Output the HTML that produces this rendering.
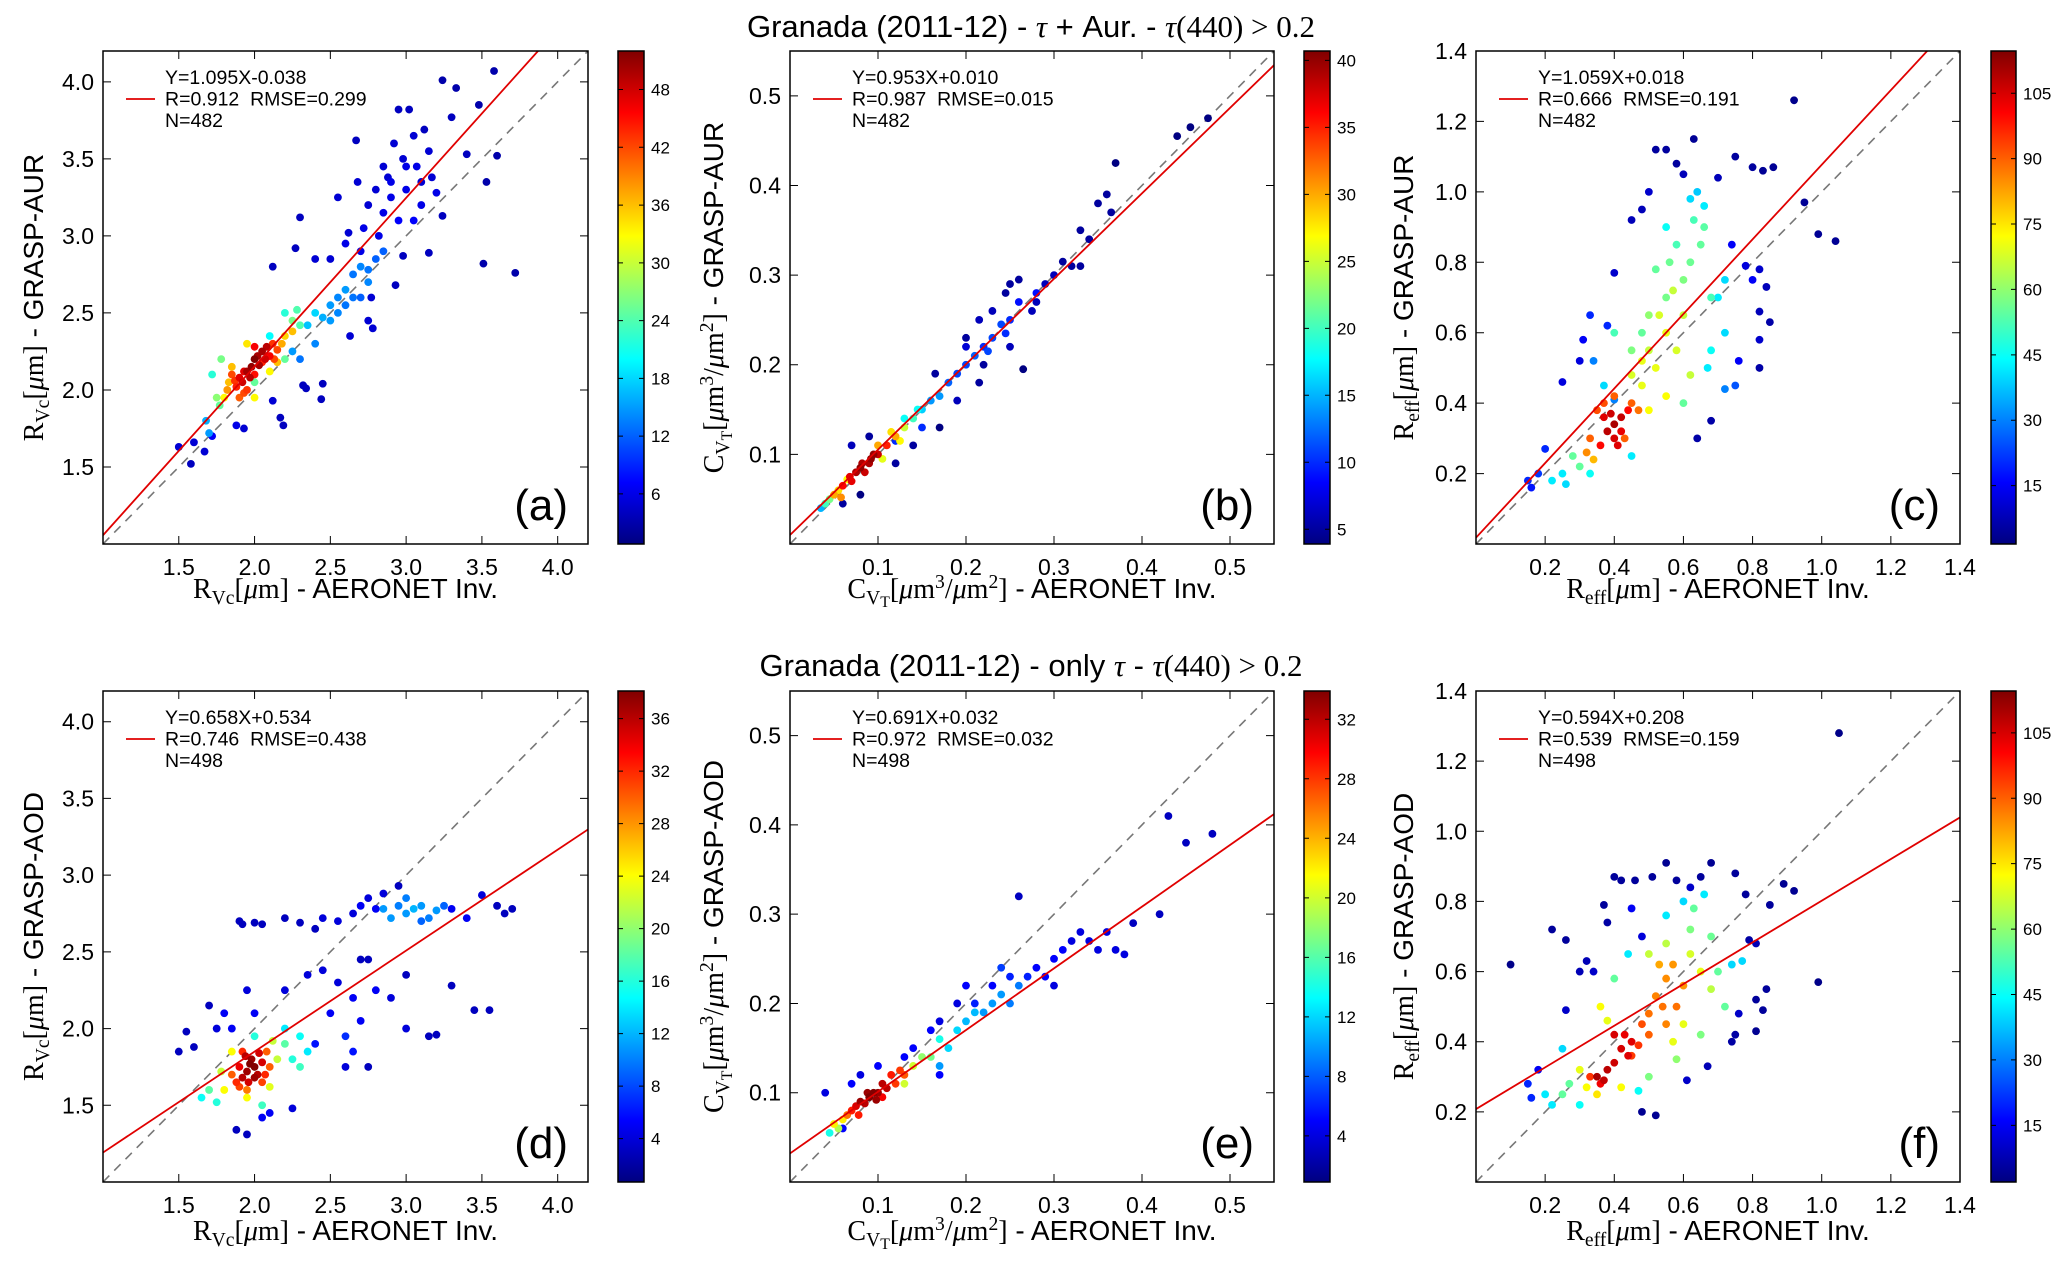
<!DOCTYPE html>
<html><head><meta charset="utf-8"><style>
html,body{margin:0;padding:0;background:#fff;}
svg{display:block;font-family:"Liberation Sans",sans-serif;}
</style></head><body>
<svg id="fig" width="2067" height="1265" viewBox="0 0 2067 1265" xmlns="http://www.w3.org/2000/svg">
<text x="1031" y="37" text-anchor="middle" font-size="31">Granada (2011-12) - <tspan font-family="Liberation Serif" font-style="italic">τ</tspan> + Aur. - <tspan font-family="Liberation Serif"><tspan font-style="italic">τ</tspan>(440) &gt; 0.2</tspan></text>
<text x="1031" y="676" text-anchor="middle" font-size="31">Granada (2011-12) - only <tspan font-family="Liberation Serif" font-style="italic">τ</tspan> - <tspan font-family="Liberation Serif"><tspan font-style="italic">τ</tspan>(440) &gt; 0.2</tspan></text>
</svg>
<script>
// ---- data: [x, y, density] ----
const dataA=[[1.95,2.12,50],[2.0,2.2,52],[2.05,2.25,50],[1.92,2.05,48],[2.08,2.28,49],[1.98,2.15,51],[2.02,2.22,50],[1.9,2.08,47],[2.1,2.22,46],
[1.97,2.08,49],[2.03,2.16,50],[2.07,2.2,48],[1.93,2.12,47],[2.0,2.28,46],
[1.88,2.02,44],[1.95,2.0,43],[2.12,2.3,43],[2.0,2.1,45],[1.85,2.1,42],[2.05,2.18,44],[2.15,2.26,42],[1.93,1.98,42],[1.9,1.95,41],[2.13,2.2,42],[1.87,2.06,43],
[1.82,2.0,38],[1.85,2.15,36],[2.15,2.18,36],[1.95,2.3,34],[2.2,2.35,35],[2.25,2.38,36],[1.8,1.95,33],[2.1,2.12,33],[2.0,1.95,33],[2.18,2.3,37],[1.83,2.05,36],
[1.75,1.95,27],[1.78,2.2,26],[2.25,2.45,26],[2.3,2.42,24],[2.2,2.5,22],[1.72,2.1,22],[2.1,2.35,20],[2.4,2.5,18],[2.0,2.05,25],[2.2,2.2,25],[1.77,1.9,25],[2.28,2.52,24],
[1.68,1.8,16],[1.7,1.72,15],[2.35,2.42,17],[2.5,2.55,15],[2.45,2.47,16],[2.55,2.6,14],[2.6,2.65,15],[2.65,2.75,13],[2.7,2.8,14],[2.75,2.7,14],[2.8,2.85,12],[2.85,2.9,12],[2.6,2.55,13],[2.7,2.6,12],[2.4,2.3,14],[2.25,2.25,15],[2.3,2.2,13],[2.5,2.45,15],[2.55,2.5,14],[2.65,2.6,13],[2.75,2.78,13],
[1.5,1.63,5],[1.58,1.52,4],[1.6,1.66,5],[1.67,1.6,5],[1.72,1.7,7],[1.88,1.77,6],[1.93,1.75,5],[2.12,1.93,5],[2.17,1.82,4],[2.19,1.77,4],[2.32,2.03,4],[2.34,2.01,4],[2.45,2.04,4],[2.44,1.94,4],[2.12,2.8,4],[2.27,2.92,4],[2.3,3.12,4],[2.4,2.85,5],[2.55,3.25,5],[2.62,3.02,5],[2.67,3.62,4],[2.68,3.35,5],[2.75,3.2,5],[2.8,3.3,5],[2.85,3.45,5],[2.88,3.38,5],[2.9,3.25,6],[2.92,3.6,5],[2.95,3.82,4],[2.98,3.5,5],[3.0,3.3,6],[3.02,3.82,4],[3.05,3.65,5],[3.07,3.45,6],[3.1,3.2,6],[3.12,3.69,4],[3.15,3.55,5],[3.17,3.38,5],[3.2,3.28,6],[3.24,4.01,3],[3.3,3.77,4],[3.33,3.96,3],[3.4,3.53,4],[3.48,3.85,3],[3.58,4.07,3],[3.6,3.52,3],[3.53,3.35,3],[3.51,2.82,3],[3.72,2.76,3],[3.15,2.89,4],[3.24,3.13,4],[2.98,2.87,4],[2.93,2.68,4],[2.77,2.6,5],[2.78,2.4,5],[2.75,2.45,5],[2.63,2.35,5],[2.5,2.85,5],[2.6,2.95,6],[2.7,2.9,6],[2.82,3.0,6],[2.95,3.1,7],[3.05,3.1,7],[2.9,3.35,6],[3.0,3.45,6],[2.85,3.15,6],[3.1,3.35,5],[2.72,3.05,6]];
const dataB=[[0.08,0.085,40],[0.09,0.09,39],[0.1,0.1,38],[0.07,0.07,37],[0.095,0.1,40],[0.085,0.08,38],[0.06,0.065,36],[0.11,0.11,35],[0.075,0.08,39],[0.082,0.09,39],[0.092,0.095,40],[0.068,0.075,37],
[0.05,0.055,30],[0.055,0.06,28],[0.12,0.12,30],[0.115,0.125,28],[0.13,0.13,25],[0.065,0.072,27],[0.1,0.11,30],[0.105,0.095,26],[0.058,0.052,31],[0.125,0.115,27],
[0.04,0.045,20],[0.045,0.05,22],[0.14,0.14,20],[0.145,0.15,18],[0.15,0.15,16],[0.13,0.14,18],[0.16,0.16,14],[0.17,0.165,14],[0.035,0.04,15],
[0.18,0.18,12],[0.19,0.19,11],[0.2,0.2,11],[0.21,0.21,12],[0.22,0.22,10],[0.23,0.23,11],[0.24,0.245,11],[0.25,0.25,10],[0.26,0.27,9],[0.28,0.28,9],[0.15,0.13,10],[0.12,0.115,10],[0.225,0.215,11],[0.245,0.235,10],
[0.06,0.045,5],[0.08,0.055,4],[0.07,0.11,6],[0.09,0.12,5],[0.12,0.09,5],[0.14,0.11,5],[0.17,0.13,4],[0.165,0.19,5],[0.2,0.23,5],[0.215,0.25,6],[0.23,0.26,6],[0.25,0.29,5],[0.245,0.28,5],[0.26,0.295,5],[0.22,0.2,5],[0.215,0.18,5],[0.265,0.195,4],[0.275,0.26,6],[0.29,0.29,6],[0.3,0.3,6],[0.31,0.315,5],[0.32,0.31,5],[0.33,0.31,5],[0.33,0.35,5],[0.34,0.34,5],[0.35,0.38,5],[0.36,0.39,5],[0.365,0.37,5],[0.37,0.425,4],[0.44,0.455,4],[0.455,0.465,4],[0.475,0.475,4],[0.19,0.16,6],[0.25,0.22,6],[0.28,0.27,6],[0.2,0.22,7]];
const dataC=[[0.4,0.34,110],[0.38,0.32,108],[0.42,0.36,107],[0.4,0.3,105],[0.37,0.36,104],[0.44,0.38,100],[0.36,0.28,100],[0.42,0.32,103],[0.39,0.37,106],[0.41,0.28,104],
[0.33,0.3,90],[0.35,0.38,92],[0.45,0.4,90],[0.47,0.38,88],[0.32,0.26,85],[0.4,0.42,90],[0.34,0.24,80],[0.37,0.4,92],[0.43,0.3,90],
[0.5,0.38,72],[0.48,0.45,70],[0.55,0.42,72],[0.52,0.5,70],[0.58,0.55,68],[0.6,0.65,66],[0.55,0.6,70],[0.5,0.55,66],[0.45,0.48,68],[0.62,0.48,66],[0.57,0.72,66],[0.53,0.65,68],[0.48,0.52,70],
[0.3,0.22,55],[0.28,0.25,55],[0.6,0.75,58],[0.55,0.7,57],[0.65,0.85,55],[0.62,0.8,56],[0.66,0.9,54],[0.48,0.6,55],[0.52,0.78,55],[0.68,0.7,52],[0.58,0.85,52],[0.6,0.4,55],[0.45,0.55,58],[0.5,0.65,60],[0.4,0.6,52],[0.56,0.8,56],[0.63,0.92,52],
[0.22,0.18,42],[0.25,0.2,42],[0.26,0.17,40],[0.33,0.2,45],[0.66,0.96,42],[0.62,0.98,40],[0.7,0.7,42],[0.72,0.6,40],[0.68,0.55,45],[0.67,0.5,42],[0.72,0.75,40],[0.64,1.0,38],[0.55,0.9,45],[0.37,0.45,40],[0.45,0.25,42],
[0.15,0.18,20],[0.16,0.16,18],[0.18,0.2,22],[0.2,0.27,20],[0.25,0.46,12],[0.3,0.52,12],[0.31,0.58,15],[0.33,0.65,20],[0.38,0.62,20],[0.4,0.77,10],[0.45,0.92,8],[0.48,0.95,8],[0.5,1.0,10],[0.52,1.12,5],[0.55,1.12,5],[0.58,1.08,5],[0.6,1.05,8],[0.63,1.15,4],[0.7,1.04,8],[0.75,1.1,5],[0.8,1.07,5],[0.83,1.06,4],[0.86,1.07,4],[0.74,0.85,15],[0.78,0.79,12],[0.8,0.75,15],[0.82,0.78,10],[0.84,0.73,8],[0.82,0.66,8],[0.85,0.63,6],[0.82,0.58,10],[0.76,0.52,15],[0.82,0.5,6],[0.68,0.35,6],[0.64,0.3,6],[0.92,1.26,3],[0.95,0.97,4],[0.99,0.88,4],[1.04,0.86,4],[0.4,0.41,30],[0.34,0.52,30],[0.72,0.44,30],[0.75,0.45,25]];
const dataD=[[1.95,1.72,37],[2.0,1.75,38],[1.92,1.68,36],[1.98,1.8,37],[2.02,1.7,36],[1.96,1.65,35],[2.05,1.78,35],[1.9,1.75,34],[1.97,1.77,38],[2.0,1.68,37],[1.94,1.82,36],[2.03,1.84,35],
[1.88,1.65,32],[2.05,1.65,31],[2.08,1.85,30],[1.85,1.7,30],[1.95,1.6,29],[2.1,1.75,30],[1.92,1.85,32],[1.9,1.62,31],[2.07,1.7,32],
[1.8,1.6,24],[1.85,1.85,24],[2.1,1.62,23],[2.15,1.8,22],[1.78,1.72,22],[2.12,1.92,22],[1.95,1.55,24],
[1.7,1.6,18],[1.75,1.52,16],[2.2,1.9,18],[2.25,1.8,16],[2.3,1.75,17],[2.0,1.95,16],[2.2,2.0,14],[2.35,1.85,14],[2.05,1.5,17],[1.65,1.55,15],[2.3,1.95,15],
[2.85,2.78,11],[2.9,2.72,11],[2.95,2.8,10],[3.0,2.75,11],[3.05,2.78,12],[3.1,2.8,11],[3.15,2.72,10],[3.2,2.77,11],[3.0,2.85,10],[3.1,2.7,9],[3.25,2.8,9],
[1.9,2.7,3],[1.92,2.68,3],[2.0,2.69,3],[2.05,2.68,3],[2.2,2.72,3],[2.3,2.69,3],[2.45,2.72,4],[2.55,2.7,4],[2.65,2.75,4],[2.7,2.8,5],[2.75,2.85,4],[2.8,2.78,5],[2.85,2.88,4],[2.95,2.93,3],[3.4,2.72,5],[3.5,2.87,4],[3.6,2.8,3],[3.65,2.75,3],[3.7,2.78,3],[3.3,2.78,5],[2.4,2.65,3],
[1.5,1.85,3],[1.55,1.98,3],[1.6,1.88,3],[1.7,2.15,3],[1.75,2.0,4],[1.8,2.1,5],[1.85,2.0,5],[1.95,2.25,4],[2.0,2.1,5],[2.2,2.25,4],[2.35,2.35,4],[2.45,2.38,4],[2.5,2.1,5],[2.55,2.3,4],[2.65,2.2,5],[2.7,2.45,3],[2.75,2.45,3],[2.7,2.05,5],[2.8,2.25,5],[2.9,2.2,4],[3.0,2.35,3],[3.0,2.0,4],[3.3,2.28,3],[3.45,2.12,3],[3.55,2.12,3],[3.15,1.95,3],[3.2,1.96,3],[2.6,1.75,4],[2.75,1.75,3],[2.05,1.42,5],[2.1,1.45,5],[2.25,1.48,4],[1.88,1.34,3],[1.95,1.31,3],[2.4,1.9,6],[2.6,1.95,7],[2.65,1.85,6]];
const dataE=[[0.08,0.09,33],[0.09,0.095,34],[0.1,0.1,33],[0.095,0.1,34],[0.085,0.088,32],[0.11,0.105,32],[0.075,0.085,31],[0.088,0.1,33],[0.098,0.092,33],[0.105,0.11,32],
[0.07,0.08,29],[0.12,0.11,28],[0.13,0.12,27],[0.065,0.075,26],[0.105,0.095,30],[0.115,0.12,29],[0.125,0.125,28],[0.078,0.075,29],
[0.05,0.065,22],[0.06,0.07,22],[0.14,0.13,20],[0.15,0.14,18],[0.16,0.14,17],[0.13,0.11,20],[0.055,0.06,19],
[0.045,0.055,14],[0.17,0.16,14],[0.18,0.15,12],[0.19,0.17,12],[0.2,0.18,11],[0.21,0.19,11],[0.22,0.19,10],[0.23,0.2,10],[0.24,0.21,10],[0.25,0.2,9],[0.26,0.22,9],[0.17,0.13,10],
[0.04,0.1,4],[0.06,0.06,5],[0.07,0.11,5],[0.08,0.12,4],[0.1,0.13,5],[0.13,0.14,5],[0.14,0.15,5],[0.16,0.17,5],[0.17,0.18,4],[0.19,0.2,4],[0.2,0.22,5],[0.23,0.22,5],[0.25,0.23,6],[0.27,0.23,6],[0.28,0.24,5],[0.29,0.23,5],[0.3,0.25,5],[0.31,0.26,5],[0.32,0.27,4],[0.33,0.28,4],[0.34,0.27,4],[0.35,0.26,4],[0.36,0.28,4],[0.37,0.26,4],[0.38,0.255,4],[0.39,0.29,3],[0.42,0.3,3],[0.43,0.41,3],[0.45,0.38,3],[0.48,0.39,3],[0.26,0.32,3],[0.17,0.12,5],[0.21,0.2,6],[0.24,0.24,7],[0.3,0.22,4]];
const dataF=[[0.35,0.3,110],[0.38,0.32,108],[0.4,0.34,106],[0.42,0.38,105],[0.45,0.4,104],[0.43,0.42,103],[0.36,0.28,102],[0.4,0.42,105],[0.37,0.29,107],[0.44,0.36,104],
[0.33,0.3,95],[0.45,0.36,94],[0.48,0.45,92],[0.5,0.48,88],[0.52,0.53,86],[0.55,0.58,85],[0.57,0.62,84],[0.53,0.62,82],[0.6,0.56,84],[0.55,0.45,86],[0.58,0.5,88],[0.47,0.39,95],[0.5,0.42,90],[0.54,0.5,88],
[0.32,0.27,72],[0.3,0.32,70],[0.38,0.46,70],[0.36,0.5,72],[0.62,0.65,68],[0.6,0.45,70],[0.65,0.6,70],[0.68,0.55,65],[0.5,0.65,66],[0.55,0.68,65],[0.57,0.4,70],[0.42,0.27,72],[0.35,0.25,75],
[0.27,0.28,55],[0.25,0.25,55],[0.62,0.72,58],[0.68,0.7,56],[0.7,0.6,55],[0.72,0.5,55],[0.65,0.42,58],[0.58,0.35,60],[0.5,0.3,58],[0.4,0.58,55],[0.63,0.78,55],
[0.2,0.25,42],[0.22,0.22,42],[0.25,0.38,40],[0.55,0.76,42],[0.6,0.8,40],[0.66,0.82,42],[0.74,0.62,40],[0.77,0.63,40],[0.44,0.65,42],[0.3,0.22,45],[0.47,0.26,45],
[0.15,0.28,20],[0.16,0.24,20],[0.18,0.32,15],[0.1,0.62,3],[0.22,0.72,5],[0.26,0.69,5],[0.26,0.49,10],[0.3,0.6,8],[0.32,0.63,8],[0.34,0.6,10],[0.37,0.79,5],[0.38,0.74,6],[0.4,0.87,5],[0.42,0.86,5],[0.46,0.86,5],[0.51,0.87,5],[0.55,0.91,4],[0.58,0.86,5],[0.62,0.84,10],[0.65,0.87,5],[0.68,0.91,4],[0.75,0.88,5],[0.78,0.82,5],[0.85,0.79,5],[0.89,0.85,4],[0.92,0.83,4],[0.79,0.69,6],[0.81,0.68,8],[0.76,0.48,10],[0.75,0.42,6],[0.81,0.43,4],[0.83,0.49,5],[0.84,0.55,5],[0.81,0.52,5],[0.74,0.4,6],[0.67,0.33,8],[0.61,0.29,10],[0.48,0.2,4],[0.52,0.19,4],[0.99,0.57,3],[1.05,1.28,3],[0.45,0.78,15],[0.48,0.7,12]];
// fit lines [slope, intercept]
const fitA=[1.095,-0.038], fitB=[0.953,0.010], fitC=[1.059,0.018], fitD=[0.658,0.534], fitE=[0.691,0.032], fitF=[0.594,0.208];
const statsA=["Y=1.095X-0.038","R=0.912  RMSE=0.299","N=482"];
const statsB=["Y=0.953X+0.010","R=0.987  RMSE=0.015","N=482"];
const statsC=["Y=1.059X+0.018","R=0.666  RMSE=0.191","N=482"];
const statsD=["Y=0.658X+0.534","R=0.746  RMSE=0.438","N=498"];
const statsE=["Y=0.691X+0.032","R=0.972  RMSE=0.032","N=498"];
const statsF=["Y=0.594X+0.208","R=0.539  RMSE=0.159","N=498"];
const ticksR=[1.5,2.0,2.5,3.0,3.5,4.0];
const ticksC=[0.1,0.2,0.3,0.4,0.5];
const ticksE=[0.2,0.4,0.6,0.8,1.0,1.2,1.4];
const cbTicksA=[6,12,18,24,30,36,42,48], cbTicksB=[5,10,15,20,25,30,35,40], cbTicksC=[15,30,45,60,75,90,105];
const cbTicksD=[4,8,12,16,20,24,28,32,36], cbTicksE=[4,8,12,16,20,24,28,32], cbTicksF=[15,30,45,60,75,90,105];

const NS="http://www.w3.org/2000/svg";
const svg=document.getElementById('fig');
function mk(tag,attrs,parent){const e=document.createElementNS(NS,tag);for(const k in attrs)e.setAttribute(k,attrs[k]);(parent||svg).appendChild(e);return e;}
function jet(t){t=Math.max(0,Math.min(1,t));const c=v=>Math.round(255*Math.max(0,Math.min(1,v)));
 return `rgb(${c(1.5-Math.abs(4*t-3))},${c(1.5-Math.abs(4*t-2))},${c(1.5-Math.abs(4*t-1))})`;}

const rows=[[51,544],[691,1182]];
const cols=[[103,588,618,644,33],[790,1274,1304,1330,713],[1476,1960,1991,2016,1403]];
const RV='<tspan font-family="Liberation Serif">R<tspan font-size="0.7em" dy="6">Vc</tspan><tspan dy="-6">[</tspan><tspan font-style="italic">μ</tspan>m]</tspan>';
const CV='<tspan font-family="Liberation Serif">C<tspan font-size="0.7em" dy="6">V<tspan font-size="0.8em" dy="3">T</tspan></tspan><tspan dy="-9">[</tspan><tspan font-style="italic">μ</tspan>m<tspan font-size="0.7em" dy="-10">3</tspan><tspan dy="10">/</tspan><tspan font-style="italic">μ</tspan>m<tspan font-size="0.7em" dy="-10">2</tspan><tspan dy="10">]</tspan></tspan>';
const RE='<tspan font-family="Liberation Serif">R<tspan font-size="0.7em" dy="6">eff</tspan><tspan dy="-6">[</tspan><tspan font-style="italic">μ</tspan>m]</tspan>';

const panels=[
 {id:'a',r:0,c:0,data:dataA,fit:fitA,stats:statsA,dom:[1.0,4.2],ticks:ticksR,fmt:1,cb:[0.8,52],cbt:cbTicksA,xl:RV,yl:RV,ys:'GRASP-AUR'},
 {id:'b',r:0,c:1,data:dataB,fit:fitB,stats:statsB,dom:[0,0.55],ticks:ticksC,fmt:1,cb:[3.9,40.7],cbt:cbTicksB,xl:CV,yl:CV,ys:'GRASP-AUR'},
 {id:'c',r:0,c:2,data:dataC,fit:fitC,stats:statsC,dom:[0,1.4],ticks:ticksE,fmt:1,cb:[1.6,114.7],cbt:cbTicksC,xl:RE,yl:RE,ys:'GRASP-AUR'},
 {id:'d',r:1,c:0,data:dataD,fit:fitD,stats:statsD,dom:[1.0,4.2],ticks:ticksR,fmt:1,cb:[0.7,38.1],cbt:cbTicksD,xl:RV,yl:RV,ys:'GRASP-AOD'},
 {id:'e',r:1,c:1,data:dataE,fit:fitE,stats:statsE,dom:[0,0.55],ticks:ticksC,fmt:1,cb:[0.9,33.9],cbt:cbTicksE,xl:CV,yl:CV,ys:'GRASP-AOD'},
 {id:'f',r:1,c:2,data:dataF,fit:fitF,stats:statsF,dom:[0,1.4],ticks:ticksE,fmt:1,cb:[2.0,114.6],cbt:cbTicksF,xl:RE,yl:RE,ys:'GRASP-AOD'}
];

panels.forEach(p=>{
 const [L,R,CL,CR,YLX]=cols[p.c]; const [T,B]=rows[p.r];
 const g=mk('g',{});
 
 
 const sx=v=>L+(v-p.dom[0])/(p.dom[1]-p.dom[0])*(R-L);
 const sy=v=>B-(v-p.dom[0])/(p.dom[1]-p.dom[0])*(B-T);
 const clip=mk('clipPath',{id:'clip'+p.id},g); mk('rect',{x:L,y:T,width:R-L,height:B-T},clip);
 const one=mk('line',{x1:sx(p.dom[0]),y1:sy(p.dom[0]),x2:sx(p.dom[1]),y2:sy(p.dom[1]),stroke:'#777','stroke-width':1.6,'stroke-dasharray':'9,7','clip-path':`url(#clip${p.id})`},g);
 
 
 const pts=g.appendChild(document.createElementNS(NS,'g'));
 
 
 pts.setAttribute('clip-path',`url(#clip${p.id})`);
 p.data.slice().sort((a,b)=>a[2]-b[2]).forEach(d=>{
  const t=(d[2]-p.cb[0])/(p.cb[1]-p.cb[0]);
  const c=mk('circle',{cx:sx(d[0]),cy:sy(d[1]),r:3.9,fill:jet(t)},pts);
  
  
 });
 const fl=mk('line',{x1:sx(p.dom[0]),y1:sy(p.fit[0]*p.dom[0]+p.fit[1]),x2:sx(p.dom[1]),y2:sy(p.fit[0]*p.dom[1]+p.fit[1]),stroke:'#e00000','stroke-width':1.8,'clip-path':`url(#clip${p.id})`},g);
 
 
 const fr=mk('rect',{x:L,y:T,width:R-L,height:B-T,fill:'none',stroke:'#000','stroke-width':1.5},g);
 
 
 p.ticks.forEach(v=>{
  const x=sx(v),y=sy(v);
  mk('path',{d:`M${x},${B}v-8M${x},${T}v8M${L},${y}h8M${R},${y}h-8`,stroke:'#000','stroke-width':1},g);
  const tx=mk('text',{x:x,y:B+31,'text-anchor':'middle','font-size':23},g); tx.textContent=v.toFixed(p.fmt);
  
  
  const ty=mk('text',{x:L-9,y:y+8,'text-anchor':'end','font-size':23},g); ty.textContent=v.toFixed(p.fmt);
  
  
 });
 const lg=mk('g',{},g);
 
 
 mk('line',{x1:L+23,x2:L+52,y1:T+48,y2:T+48,stroke:'#e00000','stroke-width':1.8},lg);
 p.stats.forEach((s,i)=>{const t=mk('text',{x:L+62,y:T+33+i*21.5,'font-size':19.5,'xml:space':'preserve'},lg);t.textContent=s;t.style.whiteSpace='pre';});
 const pl=mk('text',{x:R-20,y:B-24,'text-anchor':'end','font-size':44},g); pl.textContent='('+p.id+')';
 
 
 const xl=mk('text',{x:(L+R)/2,y:(p.r?1240:598),'text-anchor':'middle','font-size':28},g);
 xl.innerHTML=p.xl+' - AERONET Inv.';
 
 
 const yl=mk('text',{x:0,y:0,'text-anchor':'middle','font-size':28,transform:`translate(${YLX+10},${(T+B)/2}) rotate(-90)`},g);
 yl.innerHTML=p.yl+' - '+p.ys;
 
 
 const gid='grad'+p.id;
 const lgr=mk('linearGradient',{id:gid,x1:0,y1:1,x2:0,y2:0},g);
 for(let i=0;i<=8;i++){mk('stop',{offset:i/8,'stop-color':jet(i/8)},lgr);}
 const cbr=mk('rect',{x:CL,y:T,width:CR-CL,height:B-T,fill:`url(#${gid})`,stroke:'#000','stroke-width':1.5},g);
 
 
 p.cbt.forEach(v=>{
  const y=B-(v-p.cb[0])/(p.cb[1]-p.cb[0])*(B-T);
  mk('path',{d:`M${CR},${y}h-5M${CL},${y}h5`,stroke:'#000','stroke-width':1},g);
  const t=mk('text',{x:CR+7,y:y+6,'font-size':17},g); t.textContent=v;
  
  
 });
});
</script>
</body></html>
